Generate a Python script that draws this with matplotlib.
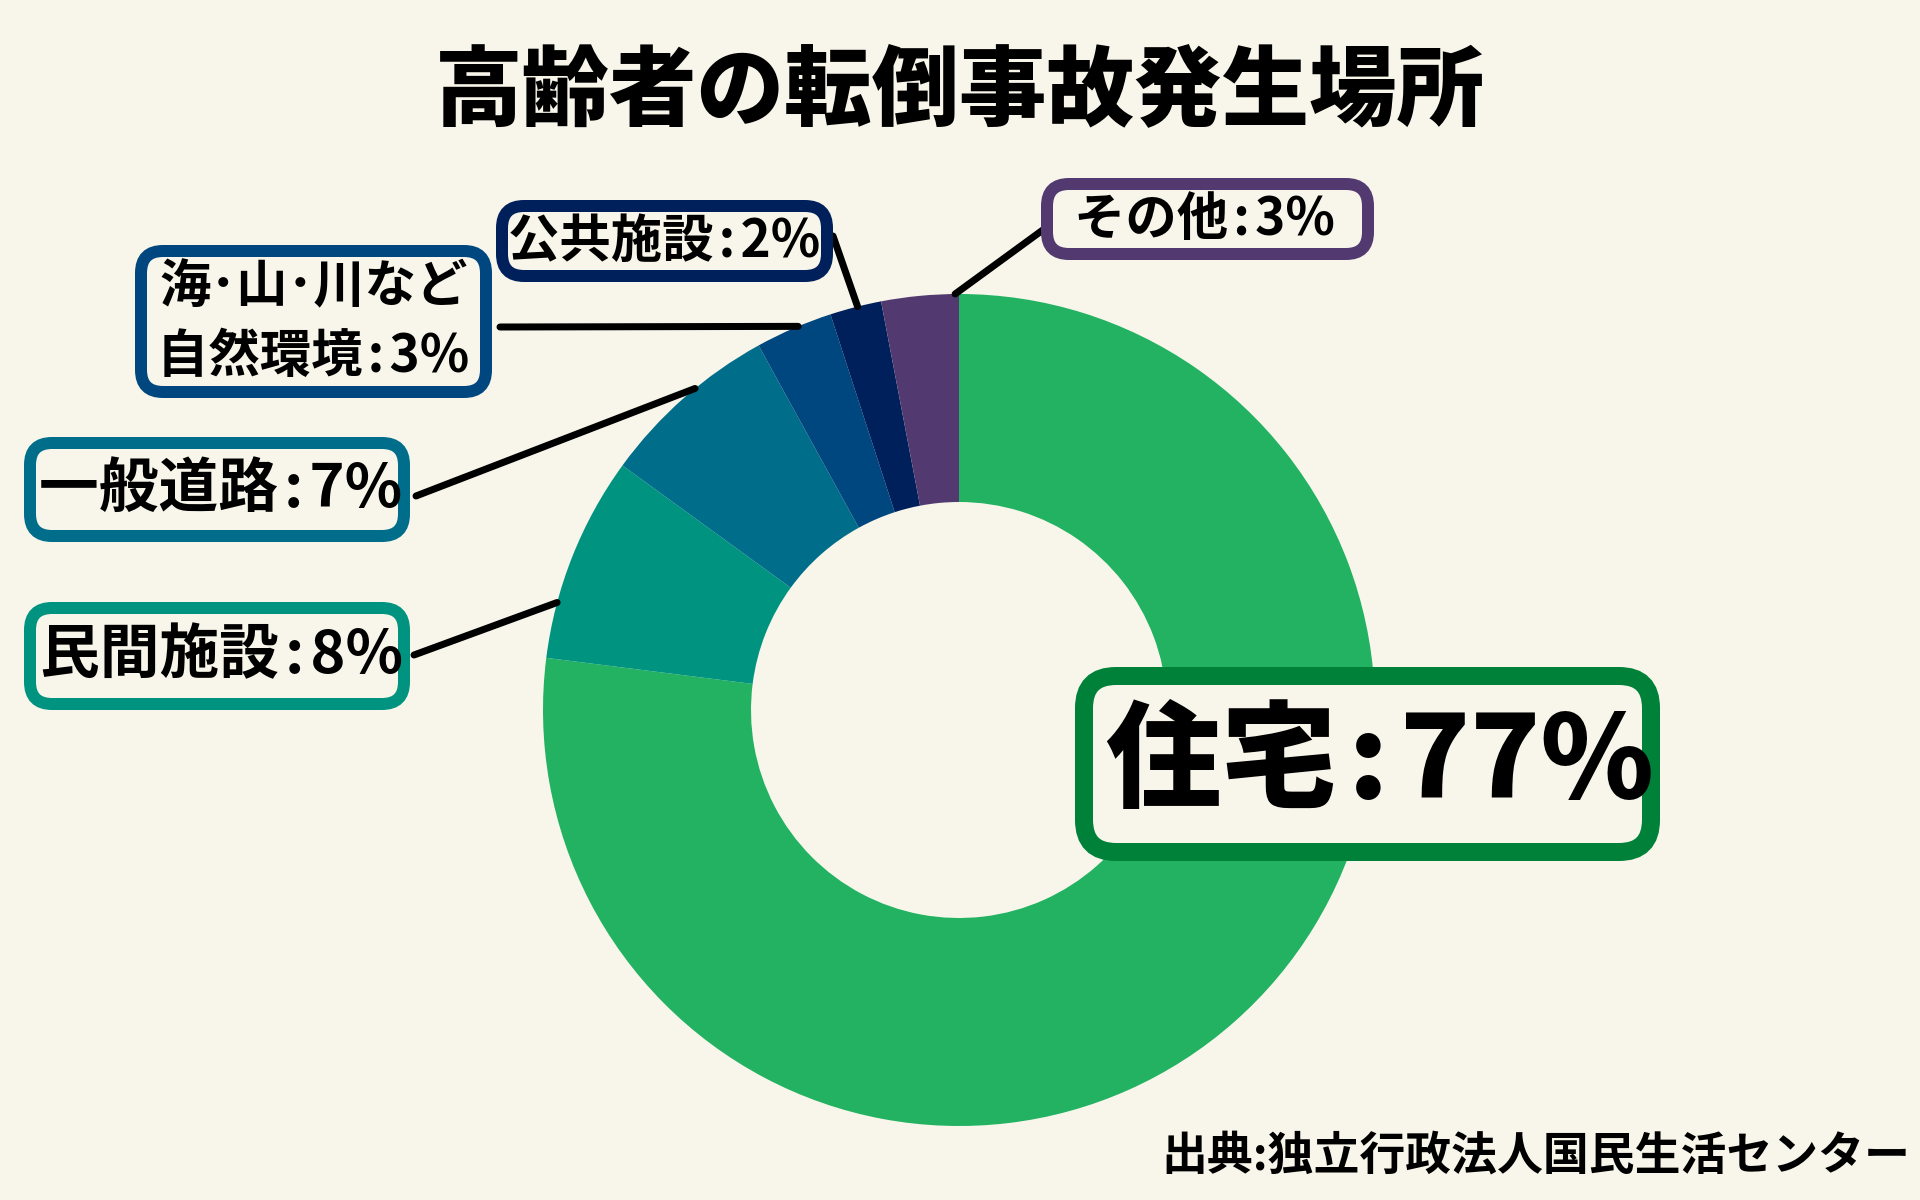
import matplotlib
matplotlib.use('Agg')
import matplotlib.pyplot as plt
from matplotlib.patches import FancyBboxPatch
import numpy as np

plt.rcParams['font.family'] = ['Noto Sans CJK JP', 'DejaVu Sans']

# data
places = ['住宅', '民間施設', '一般道路', '海･山･川など\n自然環境', '公共施設', 'その他']
shares = [77, 8, 7, 3, 2, 3]
wedge_colors = ['#22B262', '#009480', '#006D8A', '#00467F', '#00205B', '#523A70']
box_colors = ['#008139', '#009480', '#006D8A', '#00467F', '#00205B', '#523A70']
title = '高齢者の転倒事故発生場所'
source = '出典:独立行政法人国民生活センター'

bg = '#F8F6EA'
W, H = 1920, 1200

fig = plt.figure(figsize=(19.2, 12), dpi=100, facecolor=bg)
ax = fig.add_axes([0, 0, 1, 1])
ax.set_facecolor(bg)

cx, cy, R = 959, H - 710, 416
wedges, _ = ax.pie(shares, colors=wedge_colors, startangle=90, counterclock=False,
                   radius=R, center=(cx, cy),
                   wedgeprops=dict(width=R / 2, linewidth=0))
ax.set_xlim(0, W)
ax.set_ylim(0, H)
ax.set_aspect('equal')
ax.axis('off')

# layout: outer box (x0, y0, x1, y1) in px from top, border lw (px), font size,
# text x shift, leader start point, anchor fraction along the wedge
layout = [
    dict(box=(1075, 667, 1660, 861), lw=18, fs=83, weight='black', dx=12, line=None, frac=None),
    dict(box=(24, 602, 410, 710), lw=12, fs=43, weight='bold', dx=4, line=(414, 655), frac=0.73),
    dict(box=(24, 437, 410, 542), lw=12, fs=43, weight='bold', dx=4, line=(416, 496), frac=0.42),
    dict(box=(135, 245, 492, 398), lw=12, fs=37, weight='bold', dx=0, line=(500, 327), frac=0.44),
    dict(box=(496, 200, 833, 282), lw=12, fs=37, weight='bold', dx=0, line=(833, 236), frac=0.46),
    dict(box=(1041, 178, 1374, 260), lw=12, fs=37, weight='bold', dx=-3, line=(1051, 224), frac=0.05),
]

sep = '\u200a:\u200a'
px2pt = 72 / 100
for name, val, wd, col, lay in zip(places, shares, wedges, box_colors, layout):
    x0, y0, x1, y1 = lay['box']
    h = lay['lw'] / 2
    rect = FancyBboxPatch((x0 + h, H - y1 + h), x1 - x0 - 2 * h, y1 - y0 - 2 * h,
                          boxstyle='round,pad=0,rounding_size=%d' % (22 if lay['lw'] < 15 else 32),
                          fc=bg, ec=col, lw=lay['lw'] * px2pt, zorder=4)
    ax.add_patch(rect)
    tx = (x0 + x1) / 2 + lay['dx']
    if '\n' in name:
        l1, l2 = name.split('\n')
        ax.text(tx, H - (y0 + y1) / 2 + 35, l1, ha='center', va='center',
                fontsize=lay['fs'], fontweight=lay['weight'], zorder=5)
        ax.text(tx, H - (y0 + y1) / 2 - 35, l2 + sep + '%d%%' % val, ha='center',
                va='center', fontsize=lay['fs'], fontweight=lay['weight'], zorder=5)
    else:
        ax.text(tx, H - (y0 + y1) / 2, name + sep + '%d%%' % val, ha='center',
                va='center', fontsize=lay['fs'], fontweight=lay['weight'], zorder=5)
    if lay['line'] is not None:
        ang = np.deg2rad(wd.theta1 + lay['frac'] * (wd.theta2 - wd.theta1))
        ex, ey = cx + R * np.cos(ang), cy + R * np.sin(ang)
        lx, ly = lay['line']
        ax.plot([lx, ex], [H - ly, ey], color='black', lw=7 * px2pt,
                solid_capstyle='round', zorder=3)

ax.text(W / 2, H - 92, title, ha='center', va='center', fontsize=63, fontweight='black')
ax.text(1910, H - 1157, source, ha='right', va='center', fontsize=33, fontweight='bold')

fig.savefig('out.png', dpi=100, facecolor=bg)
